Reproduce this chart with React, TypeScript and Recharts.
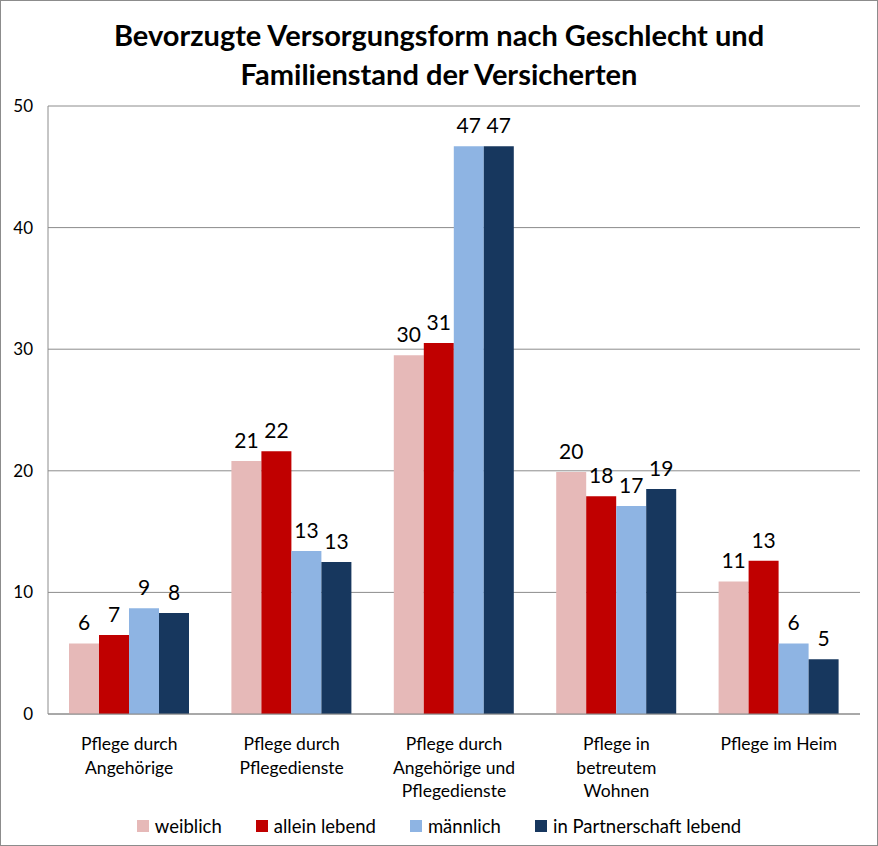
import React from "react";
import {
  Bar,
  BarChart,
  CartesianGrid,
  LabelList,
  XAxis,
  YAxis,
} from "recharts";

const categories = [
  "Pflege durch\nAngehörige",
  "Pflege durch\nPflegedienste",
  "Pflege durch\nAngehörige und\nPflegedienste",
  "Pflege in\nbetreutem\nWohnen",
  "Pflege im Heim",
];

const weiblich = [5.8, 20.8, 29.5, 19.9, 10.9];
const alleinLebend = [6.5, 21.6, 30.5, 17.9, 12.6];
const maennlich = [8.7, 13.4, 46.7, 17.1, 5.8];
const partnerschaft = [8.3, 12.5, 46.7, 18.5, 4.5];

const yTicks = [0, 10, 20, 30, 40, 50];

const series = [
  { key: "weiblich", name: "weiblich", color: "#E6B9B8" },
  { key: "allein", name: "allein lebend", color: "#C00000" },
  { key: "maennlich", name: "männlich", color: "#8EB4E3" },
  { key: "partner", name: "in Partnerschaft lebend", color: "#17375E" },
];

const data = categories.map((name, i) => ({
  name,
  weiblich: weiblich[i],
  allein: alleinLebend[i],
  maennlich: maennlich[i],
  partner: partnerschaft[i],
}));

const FONT = "Lato, 'Open Sans', sans-serif";

function CategoryTick(props: any) {
  const { x, y, payload } = props;
  const lines = String(payload.value).split("\n");
  return (
    <text
      x={x}
      y={y}
      textAnchor="middle"
      fill="#000"
      fontSize={17.5}
      fontFamily={FONT}
    >
      {lines.map((l, i) => (
        <tspan key={i} x={x} dy={i === 0 ? 28 : 23.5}>
          {l}
        </tspan>
      ))}
    </text>
  );
}

export default function App() {
  return (
    <div
      style={{
        position: "absolute",
        left: 0,
        top: 0,
        width: 876,
        height: 844,
        border: "1px solid #8c8c8c",
        background: "#fff",
        fontFamily: FONT,
      }}
    >
      <div
        style={{
          position: "absolute",
          top: 14,
          left: 0,
          width: 876,
          textAlign: "center",
          fontWeight: 700,
          fontSize: 29,
          lineHeight: "39px",
          color: "#000",
        }}
      >
        Bevorzugte Versorgungsform nach Geschlecht und
        <br />
        Familienstand der Versicherten
      </div>
      <BarChart
        width={876}
        height={844}
        data={data}
        margin={{ top: 105, right: 17, bottom: 41, left: 0 }}
        barCategoryGap={21}
        barGap={0}
      >
        <CartesianGrid vertical={false} stroke="#8c8c8c" />
        <XAxis
          dataKey="name"
          interval={0}
          tickLine={false}
          axisLine={{ stroke: "#8c8c8c" }}
          tick={<CategoryTick />}
          height={90}
        />
        <YAxis
          domain={[0, 50]}
          ticks={yTicks}
          width={47}
          tickLine={false}
          tickSize={0}
          tickMargin={15}
          axisLine={{ stroke: "#8c8c8c" }}
          tick={{ fill: "#000", fontSize: 17, fontFamily: FONT }}
        />
        {series.map((s) => (
          <Bar
            key={s.key}
            dataKey={s.key}
            name={s.name}
            fill={s.color}
            isAnimationActive={false}
          >
            <LabelList
              dataKey={s.key}
              position="top"
              offset={13}
              formatter={(v: any) => Math.round(Number(v))}
              style={{ fill: "#000", fontSize: 21, fontFamily: FONT }}
            />
          </Bar>
        ))}
      </BarChart>
      <div
        style={{
          position: "absolute",
          top: 813,
          left: 0,
          width: 876,
          display: "flex",
          justifyContent: "center",
          gap: 34,
          fontSize: 18.5,
          lineHeight: "24px",
          color: "#000",
        }}
      >
        {series.map((s) => (
          <span key={s.key} style={{ display: "flex", alignItems: "center" }}>
            <span
              style={{
                width: 12,
                height: 12,
                background: s.color,
                display: "inline-block",
                marginRight: 6,
              }}
            />
            {s.name}
          </span>
        ))}
      </div>
    </div>
  );
}
